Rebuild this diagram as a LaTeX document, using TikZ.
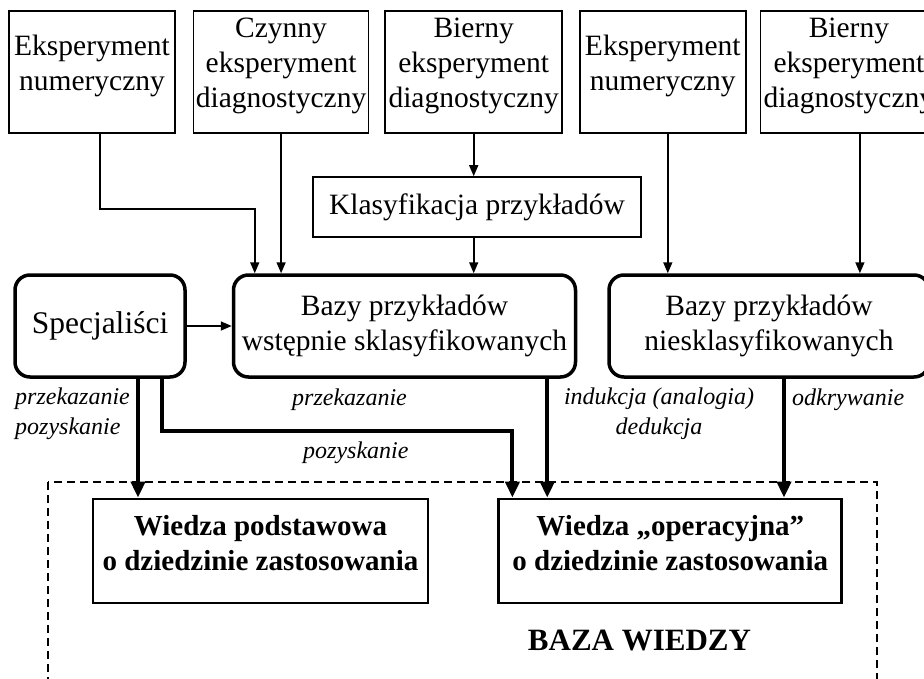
\documentclass[tikz,border=0pt]{standalone}
\usepackage{fontspec}
\setmainfont{Liberation Serif}
\usetikzlibrary{arrows.meta,positioning}

\begin{document}
\begin{tikzpicture}[
  x=1pt, y=-1pt,
  font=\fontsize{29.5}{35}\selectfont,
  src/.style={draw, line width=1.6pt, minimum width=#1, minimum height=122pt, inner sep=1pt, align=center, text depth=19pt},
  box/.style={draw, line width=1.6pt, minimum width=#1, minimum height=60pt, inner sep=2pt},
  base/.style={draw, rounded corners=15pt, line width=3.5pt, minimum width=#1, minimum height=102pt, inner sep=2pt, align=center},
  know/.style={draw, line width=2.8pt, minimum width=#1, minimum height=104pt, inner sep=2pt, align=center, text depth=16pt, font=\bfseries\fontsize{29}{35}\selectfont},
  note/.style={inner sep=0pt, font=\itshape\fontsize{24}{30}\selectfont},
  arr/.style={-{Triangle[length=11pt, width=9pt]}, line width=1.6pt},
  thk/.style={-{Triangle[length=16pt, width=14pt]}, line width=4pt},
  frame/.style={line width=1.5pt, dash pattern=on 8pt off 5pt}
]
\useasboundingbox (0,0) rectangle (924,678);

\node[src=166pt] (exp1) at (92,72) {Eksperyment\\numeryczny};
\node[src=175pt, right=17pt of exp1] (czyn) {Czynny\\eksperyment\\diagnostyczny};
\node[src=177pt, right=15pt of czyn] (bier1) {Bierny\\eksperyment\\diagnostyczny};
\node[src=166pt, right=16pt of bier1] (exp2) {Eksperyment\\numeryczny};
\node[src=177pt, right=13pt of exp2] (bier2) {Bierny\\eksperyment\\diagnostyczny};

\node[box=328pt] (klas) at (477,207) {Klasyfikacja przykładów};

\node[base=170pt, font=\fontsize{31.5}{35}\selectfont] (spec) at (100,326) {Specjaliści};
\node[base=342pt, right=45pt of spec] (bazy1) {Bazy przykładów\\wstępnie sklasyfikowanych};
\node[base=320pt, right=30pt of bazy1] (bazy2) {Bazy przykładów\\niesklasyfikowanych};

\draw[frame] (48,482) rectangle (877,700);
\node[know=335pt] (wiedza1) at (260.5,551) {Wiedza podstawowa\\o dziedzinie zastosowania};
\node[know=343pt, right=68pt of wiedza1] (wiedza2) {Wiedza „operacyjna”\\o dziedzinie zastosowania};
\node[anchor=base, font=\bfseries\fontsize{31}{35}\selectfont] (kb) at (639.5,650) {BAZA WIEDZY};

\coordinate (e1) at ([xshift=8pt]exp1.south);
\draw[arr] (e1) -- ++(0,75) -| ([xshift=23pt]bazy1.north west);
\draw[arr] (czyn.south) -- (czyn.south |- bazy1.north);
\draw[arr] (bier1.south) -- (bier1.south |- klas.north);
\draw[arr] (klas.south -| bier1.south) -- (bier1.south |- bazy1.north);
\coordinate (e2) at ([xshift=5pt]exp2.south);
\draw[arr] (e2) -- (e2 |- bazy2.north);
\coordinate (b2) at ([xshift=11pt]bier2.south);
\draw[arr] (b2) -- (b2 |- bazy2.north);
\draw[arr] (spec) -- (bazy1);

\coordinate (s1) at ([xshift=38pt]spec.south);
\draw[thk] (s1) -- (s1 |- wiedza1.north);
\coordinate (s2) at ([xshift=62pt]spec.south);
\draw[thk] (s2) -- ++(0,52) -| ([xshift=15pt]wiedza2.north west);
\coordinate (k1) at ([xshift=-30pt]bazy1.south east);
\draw[thk] (k1) -- (k1 |- wiedza2.north);
\coordinate (k2) at ([xshift=15pt]bazy2.south);
\draw[thk] (k2) -- (k2 |- wiedza2.north);

\node[note, anchor=west, align=left] (lab1) at (15,414) {przekazanie\\pozyskanie};
\node[note, anchor=base west] (lab2) at (292,405) {przekazanie};
\node[note, anchor=base west] (lab3) at (303,458) {pozyskanie};
\node[note, align=center] (lab4) at (659,414) {indukcja (analogia)\\dedukcja};
\node[note, anchor=base west] (lab5) at (792,405) {odkrywanie};
\end{tikzpicture}
\end{document}
